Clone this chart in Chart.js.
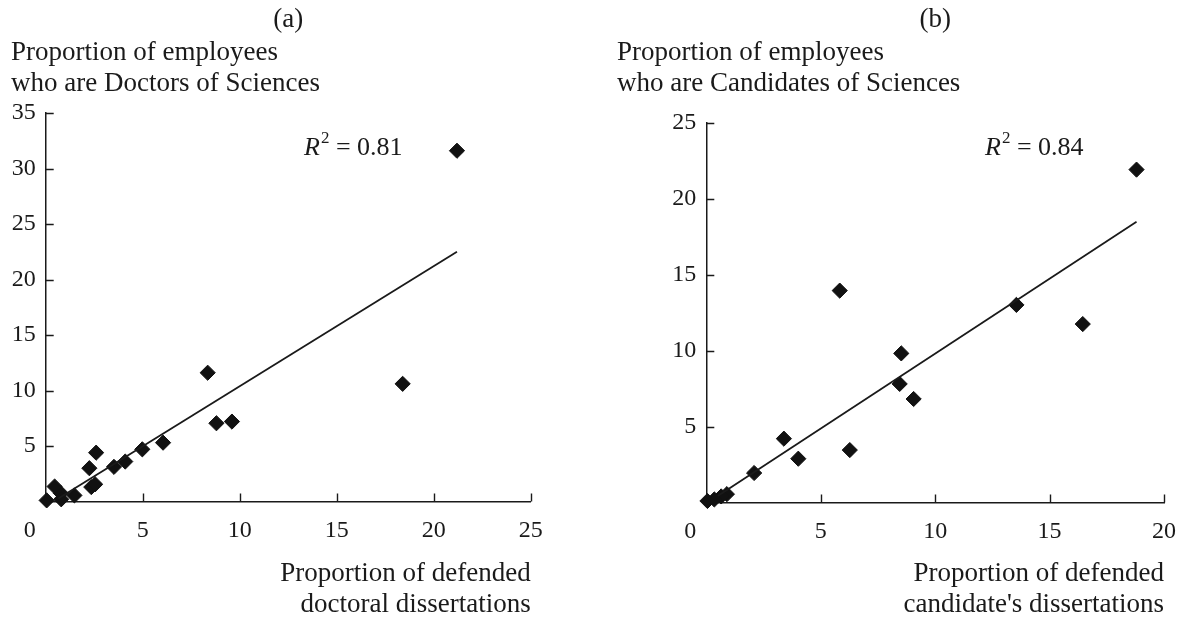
<!DOCTYPE html>
<html>
<head>
<meta charset="utf-8">
<script src="https://cdn.jsdelivr.net/npm/chart.js@4"></script>
<style>
  html, body { margin: 0; padding: 0; background: #fff; }
  #wrap { position: relative; width: 1191px; height: 620px; }
  .panel { position: absolute; top: 0; height: 620px; }
  #panelA { left: 0; width: 595px; }
  #panelB { left: 595px; width: 596px; }
</style>
</head>
<body>
<div id="wrap">
  <div class="panel" id="panelA"><canvas id="chartA"></canvas></div>
  <div class="panel" id="panelB"><canvas id="chartB"></canvas></div>
</div>
<script>
// (a) doctors of sciences
const docX = [21.2, 18.4, 8.35, 8.8, 9.6, 6.05, 4.98, 4.1, 3.52, 2.6, 2.25, 2.35, 2.55, 1.48, 0.78, 0.8, 0.46, 0.05];
const docY = [31.6, 10.6, 11.6, 7.05, 7.2, 5.3, 4.7, 3.6, 3.12, 4.4, 3.0, 1.3, 1.55, 0.55, 0.75, 0.2, 1.35, 0.1];
const docTrendX = [0.65, 21.2];
const docTrendY = [0.28, 22.5];

// (b) candidates of sciences
const candX = [18.8, 13.55, 16.45, 5.83, 8.52, 8.45, 9.06, 6.27, 3.39, 4.02, 2.09, 0.9, 0.65, 0.35, 0.05];
const candY = [21.9, 13.0, 11.74, 13.94, 9.81, 7.8, 6.81, 3.45, 4.2, 2.88, 1.94, 0.55, 0.4, 0.2, 0.1];
const candTrendX = [0.5, 18.8];
const candTrendY = [0.43, 18.47];

const xTicksA = [0, 5, 10, 15, 20, 25];
const yTicksA = [0, 5, 10, 15, 20, 25, 30, 35];
const xTicksB = [0, 5, 10, 15, 20];
const yTicksB = [0, 5, 10, 15, 20, 25];

const INK = "#1a1a1a";
const SERIF = "'Liberation Serif', 'DejaVu Serif', serif";

const pts = (xs, ys) => xs.map((x, i) => ({ x, y: ys[i] }));

// inward tick marks, the shifted "0" label and all the free text
const decor = {
  id: "decor",
  afterDraw(chart, args, opts) {
    const { ctx, chartArea: a, scales: { x, y } } = chart;
    ctx.save();
    ctx.strokeStyle = INK;
    ctx.lineWidth = 1.4;
    ctx.beginPath();
    opts.xTicks.forEach((v) => {
      if (v === 0) return;
      const px = Math.round(x.getPixelForValue(v)) + 0.5;
      ctx.moveTo(px, a.bottom);
      ctx.lineTo(px, a.bottom - 8);
    });
    opts.yTicks.forEach((v) => {
      if (v === 0) return;
      const py = Math.round(y.getPixelForValue(v)) + 0.5;
      ctx.moveTo(a.left, py);
      ctx.lineTo(a.left + 8, py);
    });
    ctx.stroke();

    ctx.fillStyle = INK;
    ctx.font = `24px ${SERIF}`;
    ctx.textAlign = "center";
    ctx.textBaseline = "middle";
    ctx.fillText("0", x.getPixelForValue(0) - 16, a.bottom + 29);

    ctx.font = `27px ${SERIF}`;
    ctx.textBaseline = "alphabetic";
    ctx.fillText(opts.tag, (a.left + a.right) / 2, 27);

    ctx.textAlign = "left";
    opts.yTitle.forEach((t, i) => ctx.fillText(t, opts.yTitleX, 60 + i * 31));

    ctx.textAlign = "right";
    opts.xTitle.forEach((t, i) => ctx.fillText(t, a.right, 581 + i * 31));

    // R^2 label
    let rx = opts.rX;
    ctx.textAlign = "left";
    ctx.font = `italic 26px ${SERIF}`;
    ctx.fillText("R", rx, 155);
    rx += ctx.measureText("R").width + 1;
    ctx.font = `17px ${SERIF}`;
    ctx.fillText("2", rx, 143);
    rx += ctx.measureText("2").width;
    ctx.font = `26px ${SERIF}`;
    ctx.fillText(" = " + opts.r2, rx, 155);
    ctx.restore();
  },
};

function makePanel(canvasId, p) {
  const ctx = document.getElementById(canvasId).getContext("2d");
  return new Chart(ctx, {
    type: "scatter",
    data: {
      datasets: [
        {
          label: "trend",
          type: "line",
          data: pts(p.trendX, p.trendY),
          borderColor: INK,
          borderWidth: 1.8,
          pointRadius: 0,
          fill: false,
          clip: false,
        },
        {
          label: "points",
          data: pts(p.xs, p.ys),
          pointStyle: "rectRot",
          pointRadius: 7.6,
          pointBackgroundColor: "#111",
          pointBorderColor: "#111",
          pointBorderWidth: 1,
          clip: false,
        },
      ],
    },
    options: {
      responsive: true,
      maintainAspectRatio: false,
      animation: false,
      events: [],
      layout: { padding: { top: p.top, right: p.right, bottom: 0, left: 0 } },
      plugins: {
        legend: { display: false },
        tooltip: { enabled: false },
        decor: {
          xTicks: p.xTicks,
          yTicks: p.yTicks,
          tag: p.tag,
          yTitle: p.yTitle,
          yTitleX: p.yTitleX,
          xTitle: p.xTitle,
          rX: p.rX,
          r2: p.r2,
        },
      },
      scales: {
        x: {
          type: "linear",
          min: 0,
          max: p.xTicks[p.xTicks.length - 1],
          afterFit: (s) => { s.height = 620 - p.bottom; },
          afterBuildTicks: (s) => { s.ticks = p.xTicks.map((v) => ({ value: v })); },
          grid: { display: false, drawTicks: false },
          border: { display: true, color: INK, width: 1.5 },
          ticks: {
            autoSkip: false,
            maxRotation: 0,
            padding: 15,
            color: INK,
            font: { family: SERIF, size: 24 },
            callback: (v) => (v === 0 ? "" : v),
          },
        },
        y: {
          type: "linear",
          min: 0,
          max: p.yTicks[p.yTicks.length - 1],
          afterFit: (s) => { s.width = p.axisX; },
          afterBuildTicks: (s) => { s.ticks = p.yTicks.map((v) => ({ value: v })); },
          grid: { display: false, drawTicks: false },
          border: { display: true, color: INK, width: 1.5 },
          ticks: {
            autoSkip: false,
            padding: 10,
            color: INK,
            font: { family: SERIF, size: 24 },
            callback: (v) => (v === 0 ? "" : v),
          },
        },
      },
    },
    plugins: [decor],
  });
}

makePanel("chartA", {
  xs: docX, ys: docY, trendX: docTrendX, trendY: docTrendY,
  xTicks: xTicksA, yTicks: yTicksA,
  axisX: 45.7, top: 113, bottom: 501.5, right: 595 - 530.7,
  tag: "(a)",
  yTitle: ["Proportion of employees", "who are Doctors of Sciences"],
  yTitleX: 11,
  xTitle: ["Proportion of defended", "doctoral dissertations"],
  rX: 304, r2: "0.81",
});

makePanel("chartB", {
  xs: candX, ys: candY, trendX: candTrendX, trendY: candTrendY,
  xTicks: xTicksB, yTicks: yTicksB,
  axisX: 111.3, top: 122.5, bottom: 502.5, right: 596 - 580.7,
  tag: "(b)",
  yTitle: ["Proportion of employees", "who are Candidates of Sciences"],
  yTitleX: 22,
  xTitle: ["Proportion of defended", "candidate's dissertations"],
  rX: 390, r2: "0.84",
});
</script>
</body>
</html>
